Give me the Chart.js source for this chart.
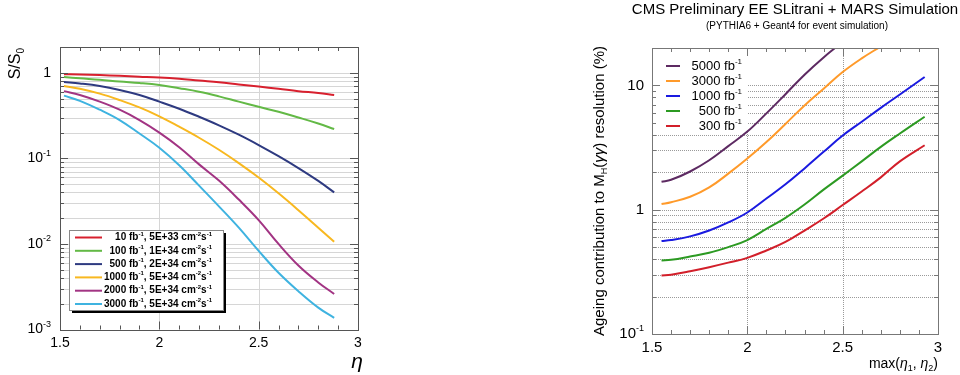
<!DOCTYPE html>
<html>
<head>
<meta charset="utf-8">
<script src="https://cdn.jsdelivr.net/npm/chart.js@4.4.1/dist/chart.umd.min.js"></script>
<style>
  html, body { margin: 0; padding: 0; background: #fff; }
  #wrap { position: relative; width: 960px; height: 375px; }
  canvas { position: absolute; top: 0; }
  #left { left: 0; }
  #right { left: 580px; }
</style>
</head>
<body>
<div id="wrap">
  <canvas id="left" width="380" height="375"></canvas>
  <canvas id="right" width="380" height="375"></canvas>
</div>
<script>
// ---- left panel : S/S0 vs eta ----
const etaLeft = [1.52, 1.6, 1.7, 1.8, 1.9, 2.0, 2.1, 2.2, 2.3, 2.4, 2.5, 2.6, 2.7, 2.8, 2.88];
const sLumi10   = [0.96, 0.955, 0.94, 0.92, 0.90, 0.88, 0.85, 0.81, 0.775, 0.73, 0.69, 0.65, 0.61, 0.58, 0.55];
const sLumi100  = [0.89, 0.86, 0.83, 0.79, 0.76, 0.72, 0.66, 0.60, 0.53, 0.46, 0.40, 0.35, 0.30, 0.255, 0.22];
const sLumi500  = [0.78, 0.75, 0.70, 0.63, 0.55, 0.46, 0.38, 0.306, 0.243, 0.189, 0.143, 0.106, 0.077, 0.0545, 0.040];
const sLumi1000 = [0.70, 0.65, 0.57, 0.48, 0.394, 0.31, 0.234, 0.174, 0.126, 0.088, 0.0596, 0.039, 0.0248, 0.0155, 0.0106];
const sLumi2000 = [0.61, 0.55, 0.46, 0.37, 0.28, 0.20, 0.135, 0.085, 0.055, 0.033, 0.019, 0.010, 0.0056, 0.00355, 0.0026];
const sLumi3000 = [0.54, 0.47, 0.37, 0.28, 0.195, 0.133, 0.083, 0.048, 0.0275, 0.0155, 0.0083, 0.0046, 0.0028, 0.0018, 0.00137];
const leftLabels = [
  '10 fb^{-1}, 5E+33 cm^{-2}s^{-1}',
  '100 fb^{-1}, 1E+34 cm^{-2}s^{-1}',
  '500 fb^{-1}, 2E+34 cm^{-2}s^{-1}',
  '1000 fb^{-1}, 5E+34 cm^{-2}s^{-1}',
  '2000 fb^{-1}, 5E+34 cm^{-2}s^{-1}',
  '3000 fb^{-1}, 5E+34 cm^{-2}s^{-1}'
];
const leftColors = ['#d8202e', '#63b946', '#2e3a80', '#f8b820', '#a23483', '#3fb3e0'];
const leftYTicks = [0.001, 0.01, 0.1, 1];
const leftYTickLabels = ['10^{-3}', '10^{-2}', '10^{-1}', '1'];

// ---- right panel : ageing contribution to M_H resolution ----
const etaRight = [1.55, 1.6, 1.7, 1.8, 1.9, 2.0, 2.1, 2.2, 2.3, 2.4, 2.5, 2.6, 2.7, 2.8, 2.93];
const res5000 = [1.68, 1.74, 2.03, 2.5, 3.25, 4.25, 5.96, 8.5, 12.2, 16.8, 22.4];
const res3000 = [1.11, 1.15, 1.27, 1.51, 1.95, 2.58, 3.5, 4.9, 6.9, 9.4, 12.8, 16.5, 20.6];
const res1000 = [0.56, 0.57, 0.61, 0.68, 0.79, 0.95, 1.23, 1.6, 2.15, 2.92, 3.95, 5.1, 6.6, 8.45, 11.7];
const res500  = [0.39, 0.395, 0.42, 0.45, 0.50, 0.57, 0.70, 0.86, 1.10, 1.45, 1.88, 2.45, 3.2, 4.1, 5.6];
const res300  = [0.296, 0.30, 0.32, 0.345, 0.375, 0.41, 0.47, 0.55, 0.68, 0.85, 1.09, 1.40, 1.82, 2.45, 3.3];
const rightLabels = ['5000 fb^{-1}', '3000 fb^{-1}', '1000 fb^{-1}', '500 fb^{-1}', '300 fb^{-1}'];
const rightColors = ['#5d2a62', '#ff9a2a', '#1a1ae0', '#2c9a22', '#d21f2a'];
const rightYTicks = [0.1, 1, 10];
const rightYTickLabels = ['10^{-1}', '1', '10'];

const FONT = 'Liberation Sans';

// split "a^{b}c_{d}*{e}" into parts: ^ super, _ sub, * italic
function richParts(str) {
  const parts = [];
  const re = /([\^_*])\{([^}]*)\}/g;
  let last = 0, m;
  while ((m = re.exec(str))) {
    if (m.index > last) parts.push({ t: str.slice(last, m.index), k: '' });
    parts.push({ t: m[2], k: m[1] });
    last = re.lastIndex;
  }
  if (last < str.length) parts.push({ t: str.slice(last), k: '' });
  return parts;
}

function drawRich(ctx, str, x, y, size, opts = {}) {
  const parts = richParts(str);
  const w = opts.weight || 'normal';
  const fontFor = p => {
    const s = (p.k === '^' || p.k === '_') ? Math.round(size * 0.62) : size;
    return `${p.k === '*' ? 'italic ' : ''}${w} ${s}px "${FONT}"`;
  };
  let total = 0;
  parts.forEach(p => { ctx.font = fontFor(p); p.w = ctx.measureText(p.t).width; total += p.w; });
  let cx = opts.align === 'right' ? x - total : opts.align === 'center' ? x - total / 2 : x;
  ctx.textBaseline = 'middle';
  ctx.textAlign = 'left';
  ctx.fillStyle = opts.color || '#000';
  parts.forEach(p => {
    ctx.font = fontFor(p);
    const dy = p.k === '^' ? -size * 0.36 : p.k === '_' ? size * 0.3 : 0;
    ctx.fillText(p.t, cx, y + dy);
    cx += p.w;
  });
}

function logValues(min, max) {
  const out = [];
  for (let d = Math.floor(Math.log10(min)); d <= Math.ceil(Math.log10(max)); d++) {
    for (let k = 1; k <= 9; k++) {
      const v = k * Math.pow(10, d);
      if (v >= min * 0.999 && v <= max * 1.001) out.push(v);
    }
  }
  return out;
}

function hline(ctx, x1, x2, y) { ctx.beginPath(); ctx.moveTo(x1, y); ctx.lineTo(x2, y); ctx.stroke(); }
function vline(ctx, x, y1, y2) { ctx.beginPath(); ctx.moveTo(x, y1); ctx.lineTo(x, y2); ctx.stroke(); }

function drawFrameTicks(chart, frameColor, minorLen, majorLen) {
  const { ctx, chartArea: a, scales: { x, y } } = chart;
  ctx.save();
  ctx.strokeStyle = frameColor;
  ctx.lineWidth = 1;
  ctx.setLineDash([]);
  ctx.strokeRect(Math.round(a.left) + 0.5, Math.round(a.top) + 0.5, Math.round(a.right - a.left), Math.round(a.bottom - a.top));
  for (let i = 15; i <= 30; i++) {
    const v = i / 10;
    const px = Math.round(x.getPixelForValue(v)) + 0.5;
    const len = i % 5 === 0 ? majorLen : minorLen;
    vline(ctx, px, a.bottom, a.bottom - len);
    vline(ctx, px, a.top, a.top + len);
  }
  logValues(y.min, y.max).forEach(v => {
    const py = Math.round(y.getPixelForValue(v)) + 0.5;
    const major = Math.abs(Math.log10(v) - Math.round(Math.log10(v))) < 1e-6;
    const len = major ? majorLen : minorLen;
    hline(ctx, a.left, a.left + len, py);
    hline(ctx, a.right, a.right - len, py);
  });
  ctx.restore();
}

// ---------------- left chart ----------------
const leftSeries = [sLumi10, sLumi100, sLumi500, sLumi1000, sLumi2000, sLumi3000];

const leftPanel = {
  id: 'leftPanel',
  beforeDatasetsDraw(chart) {
    const { ctx, chartArea: a, scales: { x, y } } = chart;
    ctx.save();
    ctx.strokeStyle = '#d6d6d6';
    ctx.lineWidth = 1;
    logValues(y.min, y.max).forEach(v => {
      const py = Math.round(y.getPixelForValue(v)) + 0.5;
      hline(ctx, a.left, a.right, py);
    });
    [2, 2.5].forEach(v => {
      const px = Math.round(x.getPixelForValue(v)) + 0.5;
      vline(ctx, px, a.top, a.bottom);
    });
    ctx.restore();
  },
  afterDatasetsDraw(chart) {
    const { ctx, chartArea: a, scales: { y } } = chart;
    drawFrameTicks(chart, '#555', 4, 8);
    ctx.save();
    leftYTicks.forEach((v, i) => {
      drawRich(ctx, leftYTickLabels[i], a.left - 9, y.getPixelForValue(v), 14, { align: 'right' });
    });
    // axis titles
    drawRich(ctx, '*{η}', 357, 362, 21, { align: 'center' });
    ctx.translate(16, 48);
    ctx.rotate(-Math.PI / 2);
    drawRich(ctx, 'S/S_{0}', 0, 0, 16, { align: 'right' });
    ctx.restore();

    // legend with shadow
    ctx.save();
    const bx = 69, by = 230, bw = 154, bh = 80;
    ctx.fillStyle = '#000';
    ctx.fillRect(bx + 3, by + 3, bw, bh);
    ctx.fillStyle = '#fff';
    ctx.fillRect(bx, by, bw, bh);
    ctx.strokeStyle = '#888';
    ctx.lineWidth = 1;
    ctx.strokeRect(bx + 0.5, by + 0.5, bw, bh);
    leftLabels.forEach((lab, i) => {
      const ry = 237.5 + i * 13.3;
      ctx.strokeStyle = leftColors[i];
      ctx.lineWidth = 2;
      hline(ctx, 75, 102, ry);
      drawRich(ctx, lab, 212, ry, 10, { align: 'right', weight: 'bold' });
    });
    ctx.restore();
  }
};

new Chart(document.getElementById('left'), {
  type: 'line',
  data: {
    labels: etaLeft,
    datasets: leftSeries.map((s, i) => ({
      label: leftLabels[i],
      data: s.map((v, j) => ({ x: etaLeft[j], y: v })),
      borderColor: leftColors[i],
      borderWidth: 2,
      pointRadius: 0,
      tension: 0.4,
      fill: false
    }))
  },
  options: {
    responsive: false,
    animation: false,
    layout: { padding: { top: 47, right: 22, left: 0, bottom: 0 } },
    plugins: { legend: { display: false }, tooltip: { enabled: false } },
    scales: {
      x: {
        type: 'linear', min: 1.5, max: 3,
        grid: { display: false, drawTicks: false },
        border: { display: false },
        ticks: { stepSize: 0.5, padding: 5, color: '#000', font: { family: FONT, size: 14 }, callback: v => String(v), maxRotation: 0 },
        afterFit: s => { s.height = 45.5; }
      },
      y: {
        type: 'logarithmic', min: 0.001, max: 2,
        grid: { display: false, drawTicks: false },
        border: { display: false },
        ticks: { display: false },
        afterFit: s => { s.width = 60; }
      }
    }
  },
  plugins: [leftPanel]
});

// ---------------- right chart ----------------
const rightSeries = [res5000, res3000, res1000, res500, res300];

const rightPanel = {
  id: 'rightPanel',
  beforeDatasetsDraw(chart) {
    const { ctx, chartArea: a, scales: { x, y } } = chart;
    ctx.save();
    ctx.strokeStyle = '#9a9a9a';
    ctx.lineWidth = 1;
    ctx.setLineDash([1, 1]);
    logValues(y.min, y.max).forEach(v => {
      const py = Math.round(y.getPixelForValue(v)) + 0.5;
      hline(ctx, a.left, a.right, py);
    });
    [2, 2.5].forEach(v => {
      const px = Math.round(x.getPixelForValue(v)) + 0.5;
      vline(ctx, px, a.top, a.bottom);
    });
    ctx.setLineDash([]);
    // legend background hides the grid behind it
    ctx.fillStyle = '#fff';
    ctx.fillRect(a.left + 1, 52, 95, 79);
    rightLabels.forEach((lab, i) => {
      const ry = 66 + i * 15;
      ctx.strokeStyle = rightColors[i];
      ctx.lineWidth = 2;
      hline(ctx, 86, 100, ry);
      drawRich(ctx, lab, 162, ry, 13, { align: 'right' });
    });
    ctx.restore();
  },
  afterDatasetsDraw(chart) {
    const { ctx, chartArea: a, scales: { y } } = chart;
    drawFrameTicks(chart, '#777', 4, 8);
    ctx.save();
    rightYTicks.forEach((v, i) => {
      drawRich(ctx, rightYTickLabels[i], a.left - 8, y.getPixelForValue(v), 15, { align: 'right' });
    });
    drawRich(ctx, 'CMS Preliminary EE SLitrani + MARS Simulation', 215, 10, 15, { align: 'center' });
    drawRich(ctx, '(PYTHIA6 + Geant4 for event simulation)', 217, 26, 10, { align: 'center' });
    drawRich(ctx, 'max(*{η}_{1}, *{η}_{2})', a.right, 364, 14, { align: 'right' });
    ctx.translate(20, 191);
    ctx.rotate(-Math.PI / 2);
    drawRich(ctx, 'Ageing contribution to M_{H}(*{γγ}) resolution (%)', 0, 0, 15, { align: 'center' });
    ctx.restore();
  }
};

new Chart(document.getElementById('right'), {
  type: 'line',
  data: {
    labels: etaRight,
    datasets: rightSeries.map((s, i) => ({
      label: rightLabels[i],
      data: s.map((v, j) => ({ x: etaRight[j], y: v })),
      borderColor: rightColors[i],
      borderWidth: 2,
      pointRadius: 0,
      tension: 0.4,
      fill: false
    }))
  },
  options: {
    responsive: false,
    animation: false,
    layout: { padding: { top: 48, right: 22, left: 0, bottom: 0 } },
    plugins: { legend: { display: false }, tooltip: { enabled: false } },
    scales: {
      x: {
        type: 'linear', min: 1.5, max: 3,
        grid: { display: false, drawTicks: false },
        border: { display: false },
        ticks: { stepSize: 0.5, padding: 5, color: '#000', font: { family: FONT, size: 15 }, callback: v => String(v), maxRotation: 0 },
        afterFit: s => { s.height = 41; }
      },
      y: {
        type: 'logarithmic', min: 0.1, max: 20,
        grid: { display: false, drawTicks: false },
        border: { display: false },
        ticks: { display: false },
        afterFit: s => { s.width = 72; }
      }
    }
  },
  plugins: [rightPanel]
});
</script>
</body>
</html>
